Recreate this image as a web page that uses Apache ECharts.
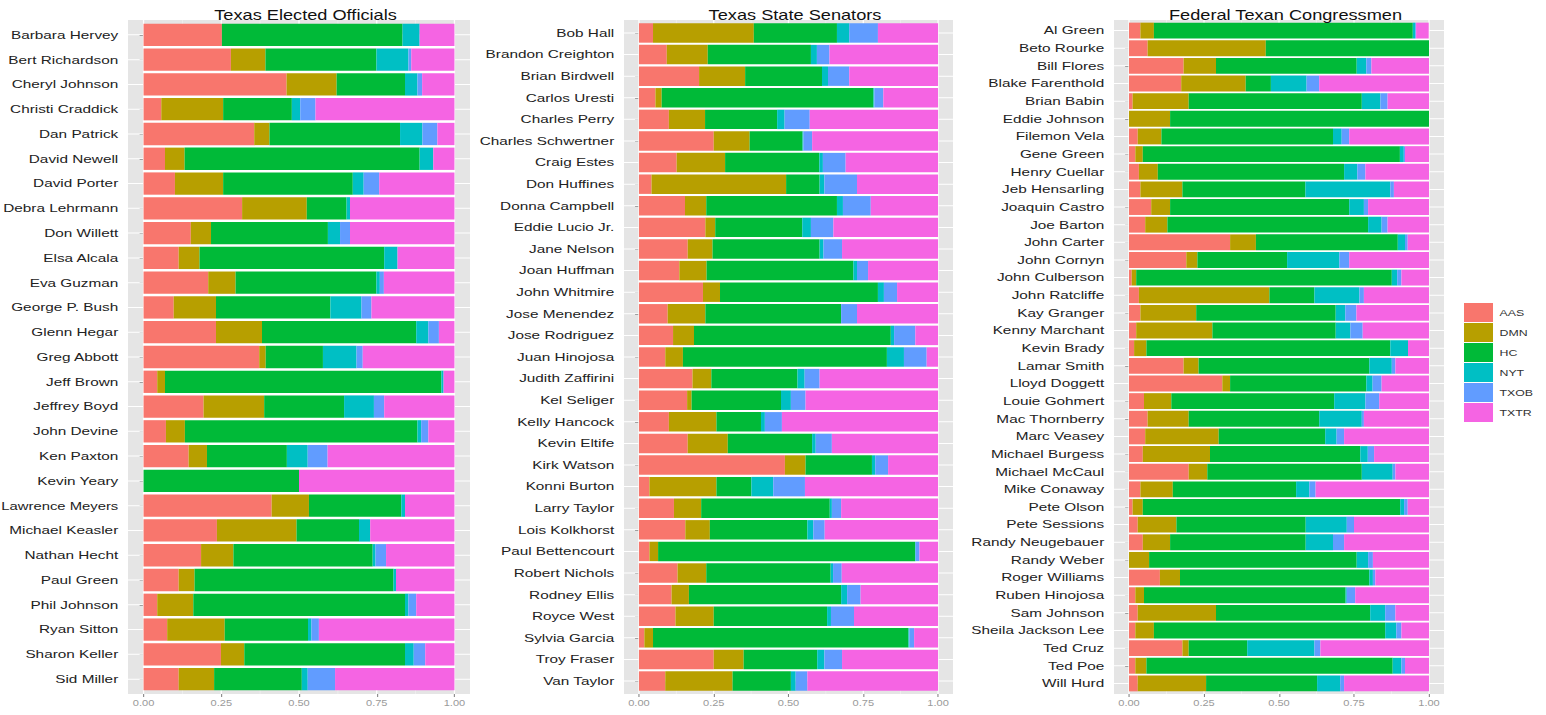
<!DOCTYPE html>
<html>
<head>
<meta charset="utf-8">
<script src="https://cdn.jsdelivr.net/npm/echarts@6/dist/echarts.min.js"></script>
<style>
  html, body { margin: 0; padding: 0; background: #fff; overflow: hidden; }
  #wrap { width: 1546px; height: 715px; overflow: hidden; }
  #chart { width: 1189px; height: 715px; transform: scaleX(1.3); transform-origin: 0 0; }
</style>
</head>
<body>
<div id="wrap"><div id="chart"></div></div>
<script>
// Share of coverage by news source, per Texas politician
const SOURCES = ['AAS', 'DMN', 'HC', 'NYT', 'TXOB', 'TXTR'];
const X_TICKS = [0, 0.25, 0.5, 0.75, 1];
const X_MINOR = [0.125, 0.375, 0.625, 0.875];

// --- Texas Elected Officials ---
const officialNames = ['Barbara Hervey','Bert Richardson','Cheryl Johnson','Christi Craddick','Dan Patrick','David Newell','David Porter','Debra Lehrmann','Don Willett','Elsa Alcala','Eva Guzman','George P. Bush','Glenn Hegar','Greg Abbott','Jeff Brown','Jeffrey Boyd','John Devine','Ken Paxton','Kevin Yeary','Lawrence Meyers','Michael Keasler','Nathan Hecht','Paul Green','Phil Johnson','Ryan Sitton','Sharon Keller','Sid Miller'];
const officialAAS  = [.252,.281,.460,.057,.356,.069,.101,.317,.152,.113,.208,.097,.233,.372,.044,.193,.072,.145,0,.412,.236,.185,.113,.044,.076,.249,.113];
const officialDMN  = [0,.111,.161,.199,.049,.063,.155,.208,.065,.067,.088,.136,.148,.021,.025,.195,.061,.059,0,.120,.256,.104,.051,.116,.185,.075,.114];
const officialHC   = [.581,.357,.220,.221,.420,.756,.417,.128,.376,.594,.453,.368,.496,.184,.889,.257,.748,.257,.5,.297,.201,.448,.640,.681,.268,.517,.282];
const officialNYT  = [.055,.103,.040,.027,.072,.044,.035,.011,.039,.043,.011,.100,.039,.108,.007,.096,.012,.067,0,.012,.036,.009,.008,.011,.011,.028,.019];
const officialTXOB = [0,.009,.015,.049,.048,0,.050,0,.032,0,.013,.032,.034,.020,0,.033,.023,.064,0,0,0,.034,0,.025,.024,.037,.088];
const officialTXTR = [.112,.139,.104,.447,.055,.068,.242,.336,.336,.183,.227,.267,.050,.295,.035,.226,.084,.408,.5,.159,.271,.220,.188,.123,.436,.094,.384];

// --- Texas State Senators ---
const senatorNames = ['Bob Hall','Brandon Creighton','Brian Birdwell','Carlos Uresti','Charles Perry','Charles Schwertner','Craig Estes','Don Huffines','Donna Campbell','Eddie Lucio Jr.','Jane Nelson','Joan Huffman','John Whitmire','Jose Menendez','Jose Rodriguez','Juan Hinojosa','Judith Zaffirini','Kel Seliger','Kelly Hancock','Kevin Eltife','Kirk Watson','Konni Burton','Larry Taylor','Lois Kolkhorst','Paul Bettencourt','Robert Nichols','Rodney Ellis','Royce West','Sylvia Garcia','Troy Fraser','Van Taylor'];
const senatorAAS  = [.047,.093,.201,.055,.100,.250,.126,.042,.154,.222,.163,.135,.214,.096,.114,.088,.179,.161,.100,.163,.488,.035,.117,.155,.035,.129,.109,.122,.018,.250,.088];
const senatorDMN  = [.337,.137,.154,.021,.121,.120,.162,.450,.071,.033,.083,.091,.057,.126,.070,.059,.063,.015,.159,.134,.069,.224,.091,.082,.029,.096,.058,.128,.029,.100,.225];
const senatorHC   = [.278,.345,.257,.708,.241,.177,.315,.112,.437,.291,.358,.491,.528,.454,.658,.682,.288,.299,.149,.282,.222,.117,.430,.326,.859,.416,.509,.379,.854,.246,.195];
const senatorNYT  = [.041,.020,.020,.003,.025,.003,.012,.016,.020,.029,.013,.012,.020,0,.011,.057,.024,.033,.013,.012,.011,.073,.007,.020,.002,.008,.020,.013,.003,.024,.016];
const senatorTXOB = [.096,.042,.071,.030,.084,.029,.076,.109,.093,.075,.062,.037,.044,.053,.071,.076,.050,.049,.057,.054,.043,.106,.031,.038,.013,.029,.045,.077,.016,.059,.039];
const senatorTXTR = [.201,.363,.297,.183,.429,.421,.309,.271,.225,.350,.321,.234,.137,.271,.076,.038,.396,.443,.522,.355,.167,.445,.324,.379,.062,.322,.259,.281,.080,.321,.437];

// --- Federal Texan Congressmen ---
const congressNames = ['Al Green','Beto Rourke','Bill Flores','Blake Farenthold','Brian Babin','Eddie Johnson','Filemon Vela','Gene Green','Henry Cuellar','Jeb Hensarling','Joaquin Castro','Joe Barton','John Carter','John Cornyn','John Culberson','John Ratcliffe','Kay Granger','Kenny Marchant','Kevin Brady','Lamar Smith','Lloyd Doggett','Louie Gohmert','Mac Thornberry','Marc Veasey','Michael Burgess','Michael McCaul','Mike Conaway','Pete Olson','Pete Sessions','Randy Neugebauer','Randy Weber','Roger Williams','Ruben Hinojosa','Sam Johnson','Sheila Jackson Lee','Ted Cruz','Ted Poe','Will Hurd'];
const congressAAS  = [.038,.062,.182,.174,.012,0,.029,.021,.033,.038,.074,.054,.337,.191,.009,.033,.038,.024,.017,.182,.311,.050,.062,.054,.046,.199,.038,.012,.029,.046,0,.103,.021,.029,.021,.178,.021,.029];
const congressDMN  = [.045,.394,.108,.215,.187,.137,.079,.025,.063,.140,.063,.074,.086,.037,.015,.435,.186,.254,.041,.050,.026,.091,.137,.245,.224,.062,.108,.034,.129,.091,.067,.067,.029,.261,.062,.021,.037,.228];
const congressHC   = [.863,.544,.469,.084,.577,.863,.572,.857,.621,.410,.597,.669,.473,.299,.852,.150,.465,.411,.813,.569,.454,.543,.435,.355,.501,.515,.411,.858,.431,.452,.692,.631,.672,.514,.771,.195,.821,.370];
const congressNYT  = [.008,0,.032,.119,.062,0,.029,.013,.044,.283,.049,.045,.024,.174,.018,.150,.032,.049,.059,.075,.021,.104,.142,.038,.025,.103,.044,.013,.137,.091,.038,.012,.004,.050,.037,.224,.029,.077];
const congressTXOB = [.003,0,.017,.042,.024,0,.025,.004,.027,.012,.014,.020,.009,.033,.014,.015,.037,.041,0,.012,.030,.046,.007,.025,.021,.009,.021,.012,.024,.037,.016,.008,.028,.034,.017,.020,.012,.013];
const congressTXTR = [.042,0,.192,.366,.138,0,.266,.080,.212,.117,.203,.138,.071,.266,.092,.217,.242,.221,.070,.112,.158,.166,.217,.283,.183,.112,.378,.071,.250,.283,.187,.179,.246,.112,.092,.362,.080,.283];

// ---- presentation ----
const COLORS = ['#F8766D', '#B79F00', '#00BA38', '#00BFC4', '#619CFF', '#F564E3'];
const SX = 1.3;                 // horizontal stretch applied to the drawing surface
const FONT = '"Liberation Sans", Arial, Helvetica, sans-serif';
const LABEL_SIZE = 11.8;
const PANEL_TOP = 20, PANEL_BOTTOM = 694;

const panels = [
  { title: 'Texas Elected Officials', names: officialNames,
    values: [officialAAS, officialDMN, officialHC, officialNYT, officialTXOB, officialTXTR], x0: 128, x1: 470 },
  { title: 'Texas State Senators', names: senatorNames,
    values: [senatorAAS, senatorDMN, senatorHC, senatorNYT, senatorTXOB, senatorTXTR], x0: 624, x1: 953 },
  { title: 'Federal Texan Congressmen', names: congressNames,
    values: [congressAAS, congressDMN, congressHC, congressNYT, congressTXOB, congressTXTR], x0: 1114, x1: 1444 }
];

panels.forEach(p => {
  p.left = p.x0 / SX;
  p.width = (p.x1 - p.x0) / SX;
  p.top = PANEL_TOP;
  p.height = PANEL_BOTTOM - PANEL_TOP;
  // discrete scale padded by 0.6 of a row on each end
  p.step = p.height / (p.names.length + 0.2);
  p.pad = 0.1 * p.step;
});

// Shrink a category label just enough to stay inside the page's left edge
const measureCtx = document.createElement('canvas').getContext('2d');
function fitLabel(name, room) {
  measureCtx.font = LABEL_SIZE + 'px ' + FONT;
  const w = measureCtx.measureText(name).width;
  if (w <= room) return name;
  return { value: name, textStyle: { fontSize: LABEL_SIZE * room / w } };
}

const chart = echarts.init(document.getElementById('chart'), null, { renderer: 'svg' });

const option = {
  animation: false,
  textStyle: { fontFamily: FONT },
  title: panels.map(p => ({
    text: p.title,
    left: p.left + p.width / 2,
    top: 3,
    textAlign: 'center',
    textStyle: { fontSize: 14, fontWeight: 'normal', color: '#111', fontFamily: FONT }
  })),
  legend: {
    data: SOURCES,
    orient: 'vertical',
    left: 1464 / SX,
    top: 303,
    padding: 0,
    itemWidth: 29 / SX,
    itemHeight: 19,
    itemGap: 1,
    icon: 'rect',
    selectedMode: false,
    textStyle: { fontSize: 9.5, color: '#333', fontFamily: FONT }
  },
  grid: panels.map(p => ({
    left: p.left, width: p.width,
    top: p.top + p.pad, height: p.height - 2 * p.pad,
    containLabel: false,
    outerBoundsMode: 'none'
  })),
  xAxis: panels.map((p, i) => ({
    type: 'value', gridIndex: i, min: -0.05, max: 1.05,
    offset: p.pad,
    axisLine: { show: false },
    splitLine: { show: false },
    axisTick: { show: true, customValues: X_TICKS, length: 3, lineStyle: { color: '#7f7f7f', width: 0.8 } },
    axisLabel: { customValues: X_TICKS, formatter: v => v.toFixed(2), fontSize: 8.5, color: '#9a9a9a', margin: 4, fontFamily: FONT }
  })),
  yAxis: panels.map((p, i) => ({
    type: 'category', gridIndex: i, inverse: true,
    data: p.names.map(n => fitLabel(n, p.left - 7.5 - 1)),
    axisLine: { show: false },
    splitLine: { show: false },
    axisTick: { show: true, alignWithLabel: true, length: 3, lineStyle: { color: '#7f7f7f', width: 1 } },
    axisLabel: { fontSize: LABEL_SIZE, color: '#222', margin: 7.5, fontFamily: FONT, interval: 0 }
  })),
  series: []
};

panels.forEach((p, i) => {
  SOURCES.forEach((src, k) => {
    option.series.push({
      type: 'bar',
      name: src,
      xAxisIndex: i,
      yAxisIndex: i,
      stack: 'panel' + i,
      data: p.values[k],
      barCategoryGap: '10%',
      itemStyle: { color: COLORS[k] },
      emphasis: { disabled: true },
      silent: true
    });
  });
});

chart.setOption(option);

// Panel backgrounds and grid lines, placed with the axes' own scales
const elements = [];
panels.forEach((p, i) => {
  const top = p.top, bottom = p.top + p.height;
  elements.push({ type: 'rect', z: 0, silent: true,
    shape: { x: p.left, y: top, width: p.width, height: p.height },
    style: { fill: '#E5E5E5' } });
  X_MINOR.forEach(v => {
    const x = chart.convertToPixel({ xAxisIndex: i }, v);
    elements.push({ type: 'line', z: 1, silent: true,
      shape: { x1: x, y1: top, x2: x, y2: bottom },
      style: { stroke: '#F2F2F2', lineWidth: 0.6 } });
  });
  X_TICKS.forEach(v => {
    const x = chart.convertToPixel({ xAxisIndex: i }, v);
    elements.push({ type: 'line', z: 1, silent: true,
      shape: { x1: x, y1: top, x2: x, y2: bottom },
      style: { stroke: '#FFFFFF', lineWidth: 1 } });
  });
  p.names.forEach((n, j) => {
    const y = chart.convertToPixel({ yAxisIndex: i }, j);
    elements.push({ type: 'line', z: 1, silent: true,
      shape: { x1: p.left, y1: y, x2: p.left + p.width, y2: y },
      style: { stroke: '#FFFFFF', lineWidth: 1 } });
  });
  const xa = chart.convertToPixel({ xAxisIndex: i }, 0);
  const xb = chart.convertToPixel({ xAxisIndex: i }, 1);
  const ya = chart.convertToPixel({ yAxisIndex: i }, 0);
  const yb = chart.convertToPixel({ yAxisIndex: i }, p.names.length - 1);
  elements.push({ type: 'rect', z: 1, silent: true,
    shape: { x: xa, y: ya, width: xb - xa, height: yb - ya },
    style: { fill: '#FFFFFF' } });
});
chart.setOption({ graphic: { elements: elements } });
</script>
</body>
</html>
